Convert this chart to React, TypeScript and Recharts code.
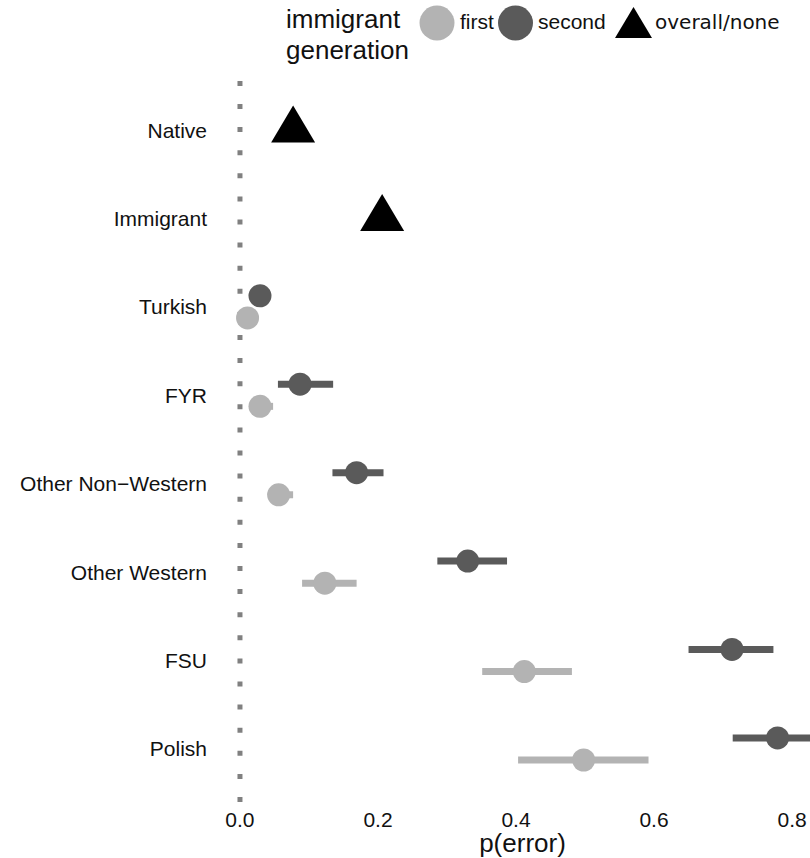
import React from "react";
import { ErrorBar, Label, ReferenceLine, Scatter, ScatterChart, XAxis, YAxis } from "recharts";

// row order, top to bottom
const categories = [
  "Native",
  "Immigrant",
  "Turkish",
  "FYR",
  "Other Non−Western",
  "Other Western",
  "FSU",
  "Polish",
];

const overallGroups = ["Native", "Immigrant"];
const overallP = [0.077, 0.206];

const groups = ["Turkish", "FYR", "Other Non−Western", "Other Western", "FSU", "Polish"];

const firstP = [0.011, 0.029, 0.056, 0.123, 0.412, 0.498];
const firstLo = [0.005, 0.018, 0.045, 0.09, 0.351, 0.403];
const firstHi = [0.018, 0.048, 0.077, 0.169, 0.481, 0.592];

const secondP = [0.029, 0.087, 0.169, 0.33, 0.713, 0.779];
const secondLo = [0.022, 0.055, 0.134, 0.286, 0.65, 0.714];
const secondHi = [0.037, 0.135, 0.208, 0.387, 0.773, 0.85];

const xTicks = [0, 0.2, 0.4, 0.6, 0.8];

const FIRST = "#b3b3b3";
const SECOND = "#5a5a5a";
const TEXT = "#111";
const SANS = "'Liberation Sans', Arial, sans-serif";
const DODGE = 0.125;

const rowOf = (c: string) => categories.indexOf(c);

const overallData = overallGroups.map((g, i) => ({ x: overallP[i], y: rowOf(g) }));
const firstData = groups.map((g, i) => ({
  x: firstP[i],
  y: rowOf(g) + DODGE,
  err: [firstP[i] - firstLo[i], firstHi[i] - firstP[i]],
}));
const secondData = groups.map((g, i) => ({
  x: secondP[i],
  y: rowOf(g) - DODGE,
  err: [secondP[i] - secondLo[i], secondHi[i] - secondP[i]],
}));

const dot = (fill: string) => (props: any) => <circle cx={props.cx} cy={props.cy} r={11.5} fill={fill} />;

const triangle = (props: any) => {
  const { cx, cy } = props;
  return <polygon points={`${cx},${cy - 24.5} ${cx - 22},${cy + 12.5} ${cx + 22},${cy + 12.5}`} fill="#000" />;
};

function LegendBox() {
  return (
    <svg width={810} height={75} style={{ position: "absolute", left: 0, top: 0, pointerEvents: "none" }}>
      <text x={286} y={28} fontSize={26} fontFamily={SANS} fill={TEXT}>immigrant</text>
      <text x={286} y={59} fontSize={26} fontFamily={SANS} fill={TEXT}>generation</text>
      <circle cx={437} cy={23} r={17.5} fill={FIRST} />
      <text x={460} y={29} fontSize={21} fontFamily={SANS} fill={TEXT}>first</text>
      <circle cx={515.5} cy={23} r={17.5} fill={SECOND} />
      <text x={538} y={29} fontSize={21} fontFamily={SANS} fill={TEXT}>second</text>
      <polygon points="633.5,7 615,38 652,38" fill="#000" />
      <text x={655} y={29} fontSize={20} fontFamily="'DejaVu Sans', sans-serif" fill={TEXT}>overall/none</text>
    </svg>
  );
}

export default function App() {
  return (
    <div style={{ position: "absolute", left: 0, top: 0, width: 810, height: 858, background: "#fff" }}>
      <ScatterChart width={810} height={858} margin={{ top: 77, right: 0, bottom: 0, left: 0 }}>
        <XAxis
          type="number"
          dataKey="x"
          domain={[-0.0217, 0.826]}
          allowDataOverflow
          ticks={xTicks}
          tickFormatter={(v: number) => v.toFixed(1)}
          axisLine={false}
          tickLine={false}
          tickSize={0}
          tickMargin={10}
          height={56}
          tick={{ fontSize: 21, fill: TEXT, fontFamily: SANS }}
        >
          <Label value="p(error)" position="insideBottom" offset={6} dx={5} style={{ fontSize: 26, fill: TEXT, fontFamily: SANS }} />
        </XAxis>
        <YAxis
          type="number"
          dataKey="y"
          reversed
          domain={[-0.6, 7.6]}
          allowDataOverflow
          ticks={categories.map((_, i) => i)}
          tickFormatter={(v: number) => categories[v] ?? ""}
          axisLine={false}
          tickLine={false}
          tickSize={0}
          tickMargin={18}
          width={225}
          tick={{ fontSize: 21, fill: TEXT, fontFamily: SANS }}
        />
        <Scatter data={overallData} shape={triangle} isAnimationActive={false} />
        <Scatter data={firstData} shape={dot(FIRST)} isAnimationActive={false}>
          <ErrorBar dataKey="err" direction="x" width={0} strokeWidth={7} stroke={FIRST} />
        </Scatter>
        <Scatter data={secondData} shape={dot(SECOND)} isAnimationActive={false}>
          <ErrorBar dataKey="err" direction="x" width={0} strokeWidth={7} stroke={SECOND} />
        </Scatter>
        <ReferenceLine x={0} stroke="#808080" strokeWidth={5} strokeDasharray="5 18.1" />
      </ScatterChart>
      <LegendBox />
    </div>
  );
}
